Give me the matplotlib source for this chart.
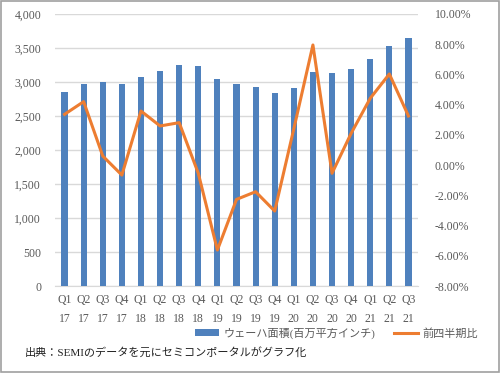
import matplotlib
matplotlib.use("Agg")
import matplotlib.pyplot as plt
from matplotlib.ticker import FuncFormatter, MultipleLocator
from matplotlib.patches import Rectangle

plt.rcParams['font.family'] = ['Liberation Serif', 'Noto Sans CJK JP', 'DejaVu Sans']

quarters = ['Q1\n17', 'Q2\n17', 'Q3\n17', 'Q4\n17',
            'Q1\n18', 'Q2\n18', 'Q3\n18', 'Q4\n18',
            'Q1\n19', 'Q2\n19', 'Q3\n19', 'Q4\n19',
            'Q1\n20', 'Q2\n20', 'Q3\n20', 'Q4\n20',
            'Q1\n21', 'Q2\n21', 'Q3\n21']
wafer_area = [2853, 2975, 2995, 2975, 3078, 3162, 3255, 3230, 3044, 2975,
              2926, 2843, 2917, 3147, 3128, 3196, 3334, 3534, 3642]
qoq_change = [3.36, 4.20, 0.60, -0.66, 3.58, 2.59, 2.81, -0.54, -5.62, -2.27,
              -1.76, -3.04, 2.4, 7.95, -0.54, 2.1, 4.42, 6.03, 3.25]

tick_color = '#595959'
blue = '#4f81bd'
orange = '#ed7d31'

fig = plt.figure(figsize=(5, 3.73), dpi=100)
ax = fig.add_axes([0.11, 0.2332, 0.726, 0.7293])
x = list(range(len(quarters)))

ax.bar(x, wafer_area, width=0.32, color=blue, zorder=3, label='ウェーハ面積(百万平方インチ)')
ax.set_ylim(0, 4000)
ax.set_xlim(-0.5, len(quarters) - 0.5)
ax.yaxis.set_major_locator(MultipleLocator(500))
ax.yaxis.set_major_formatter(FuncFormatter(lambda v, p: f'{v:,.0f}'))
ax.grid(axis='y', color='#d9d9d9', linewidth=1, zorder=0)
ax.set_xticks(x)
ax.set_xticklabels(quarters, linespacing=1.7)

ax2 = ax.twinx()
ax2.plot(x, qoq_change, color=orange, linewidth=2.2, zorder=4, label='前四半期比')
ax2.set_ylim(-8, 10)
ax2.yaxis.set_major_locator(MultipleLocator(2))
ax2.yaxis.set_major_formatter(FuncFormatter(lambda v, p: f'{v:.2f}%'))

for a in (ax, ax2):
    for s in a.spines.values():
        s.set_visible(False)
    a.tick_params(length=0, colors=tick_color, labelsize=8.5)
ax.tick_params(axis='y', pad=10)
ax2.tick_params(axis='y', pad=12)
ax.tick_params(axis='x', pad=6)
ax.spines['bottom'].set_visible(True)
ax.spines['bottom'].set_color('#d9d9d9')

h1, l1 = ax.get_legend_handles_labels()
h2, l2 = ax2.get_legend_handles_labels()
fig.legend(h1 + h2, l1 + l2, loc='center', bbox_to_anchor=(0.673, 0.107), ncol=2,
           frameon=False, fontsize=8, labelcolor=tick_color, handlelength=2.2,
           columnspacing=1.6, handletextpad=0.4)

fig.text(0.05, 0.055, '出典：SEMIのデータを元にセミコンポータルがグラフ化',
         fontsize=8, color='#222222', va='center')

fig.patches.append(Rectangle((0.002, 0.002), 0.996, 0.996, transform=fig.transFigure,
                             fill=False, edgecolor='#a0a0a0', linewidth=1.2))

fig.savefig('out.png', dpi=100)
